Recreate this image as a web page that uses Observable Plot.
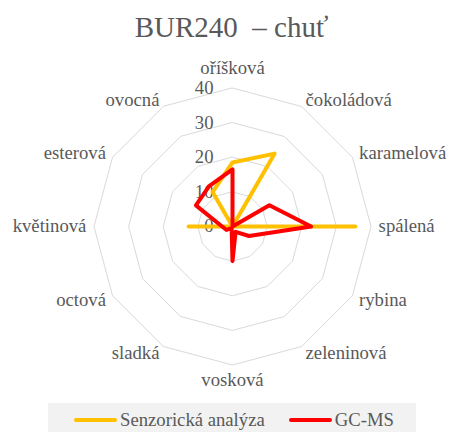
<!DOCTYPE html>
<html><head><meta charset="utf-8">
<script src="https://cdn.jsdelivr.net/npm/d3@7"></script>
<script src="https://cdn.jsdelivr.net/npm/@observablehq/plot@0.6"></script>
<style>
body{margin:0;background:#fff;color:#595959;font-family:'Liberation Serif',serif;}
#title{height:50px;box-sizing:border-box;padding-top:13px;padding-left:14px;font-size:29px;line-height:29px;text-align:center;white-space:pre;}
#legend{position:absolute;left:48px;top:403px;width:368px;height:29px;background:#f2f2f2;box-sizing:border-box;padding-top:8px;padding-left:26px;display:flex;align-items:flex-start;font-size:18.7px;line-height:18.7px;}
.item{display:flex;align-items:center;}
.sw{width:43px;height:4px;border-radius:2px;margin-right:3px;}
svg{display:block;}
</style></head>
<body>
<div id="title">BUR240  – chuť</div>
<div id="chart"></div>
<div id="legend"></div>
<script>
const categories = ["oříšková","čokoládová","karamelová","spálená","rybina","zeleninová","vosková","sladká","octová","květinová","esterová","ovocná"];
const sensory = [18.5, 24.3, 0, 35.5, 0, 0, 0, 0, 0, 12.7, 0, 11.5];
const gcms = [16.5, 0, 12.3, 22.7, 5.5, 1.8, 10, 0.5, 2, 3, 12.2, 13.5];
const ticks = [0, 10, 20, 30, 40];
const rings = [10, 20, 30, 40];
const seriesNames = ["Senzorická analýza", "GC-MS"];
const seriesColors = ["#FFC000", "#FF0000"];

const FONT = "'Liberation Serif', serif";
const n = categories.length;
const ang = i => i * 2 * Math.PI / n;
const px = (v, i) => v * Math.sin(ang(i));
const py = (v, i) => v * Math.cos(ang(i));
const labelR = 42.2;

const gridData = rings.flatMap(r => categories.map((c, i) => ({r, i})));
const seriesData = [sensory, gcms].flatMap((vals, s) => vals.map((v, i) => ({s: seriesNames[s], v, i})));
const labels = categories.map((name, i) => ({name, i}));

const side = d => {
  const sx = Math.round(Math.sin(ang(d.i)) * 1000) / 1000;
  return sx > 0 ? "right" : sx < 0 ? "left" : (Math.cos(ang(d.i)) > 0 ? "top" : "bottom");
};
const labelMark = (which, opts) => Plot.text(labels, {
  filter: d => side(d) === which,
  x: d => px(labelR, d.i), y: d => py(labelR, d.i), text: "name",
  fill: "#595959", fontSize: 18.7, fontFamily: FONT, ...opts
});

const cx = 232, R = 138.5, H = 350, cy = 176;
const chart = Plot.plot({
  width: 449, height: H,
  x: {domain: [-40, 40], range: [cx - R, cx + R], axis: null},
  y: {domain: [-40, 40], range: [cy + R, cy - R], axis: null},
  style: {fontFamily: FONT, background: "transparent", color: "#595959"},
  marks: [
    Plot.line(gridData, {x: d => px(d.r, d.i), y: d => py(d.r, d.i), z: "r", curve: "linear-closed", stroke: "#d9d9d9", strokeWidth: 1}),
    Plot.text(ticks, {x: () => 0, y: d => d, text: d => String(d), textAnchor: "end", dx: -19, fill: "#595959", fontSize: 18.7, fontFamily: FONT}),
    labelMark("right", {textAnchor: "start"}),
    labelMark("left", {textAnchor: "end"}),
    labelMark("top", {lineAnchor: "bottom", dy: -6}),
    labelMark("bottom", {lineAnchor: "top"}),
    Plot.line(seriesData, {x: d => px(d.v, d.i), y: d => py(d.v, d.i), z: "s",
      stroke: d => seriesColors[seriesNames.indexOf(d.s)], curve: "linear-closed",
      strokeWidth: 4, strokeLinejoin: "round", strokeLinecap: "round"})
  ]
});
document.getElementById("chart").appendChild(chart);

const legend = document.getElementById("legend");
seriesNames.forEach((name, k) => {
  const it = document.createElement("div");
  it.className = "item";
  if (k > 0) it.style.marginLeft = "24px";
  const sw = document.createElement("div");
  sw.className = "sw";
  sw.style.background = seriesColors[k];
  const t = document.createElement("span");
  t.textContent = name;
  it.appendChild(sw); it.appendChild(t);
  legend.appendChild(it);
});
</script></body></html>
